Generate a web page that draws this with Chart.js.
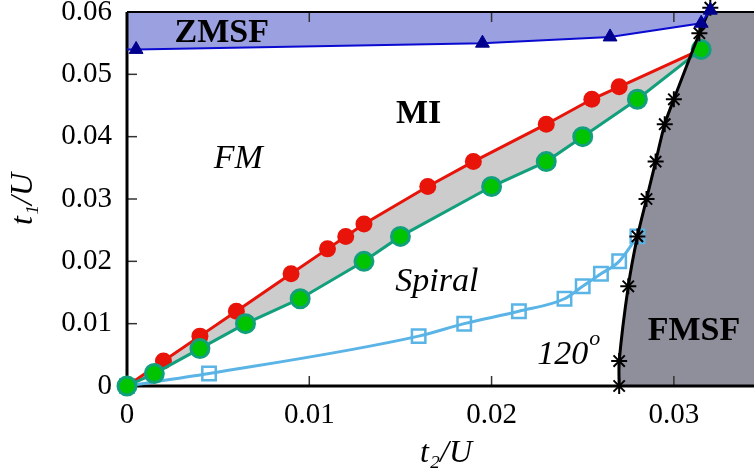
<!DOCTYPE html>
<html>
<head>
<meta charset="utf-8">
<script src="https://cdn.jsdelivr.net/npm/chart.js@4"></script>
<style>
  html, body { margin: 0; padding: 0; background: #fff; overflow: hidden; }
  #wrap { width: 754px; height: 474px; overflow: hidden; position: relative; }
  #chart { display: block; }
</style>
</head>
<body>
<div id="wrap"><canvas id="chart" width="777" height="474"></canvas></div>
<script>
const X_TICKS = [0, 0.01, 0.02, 0.03];
const Y_TICKS = [0, 0.01, 0.02, 0.03, 0.04, 0.05, 0.06];
const X_MAX = 0.035;
const Y_MAX = 0.06;

// ZMSF boundary (triangles) - first entry is where the line meets the t1 axis
const zmsfT2 = [0, 0.0005, 0.0195, 0.0265, 0.0315, 0.032];
const zmsfT1 = [0.054, 0.054, 0.055, 0.056, 0.0582, 0.0603];

// FM / MI boundary (red circles)
const redT2 = [0, 0.002, 0.004, 0.006, 0.009, 0.011, 0.012, 0.013, 0.0165, 0.019, 0.023, 0.0255, 0.027, 0.0315];
const redT1 = [0, 0.004, 0.008, 0.012, 0.018, 0.022, 0.024, 0.026, 0.032, 0.036, 0.042, 0.046, 0.048, 0.054];

// MI / Spiral boundary (green circles)
const greenT2 = [0, 0.0015, 0.004, 0.0065, 0.0095, 0.013, 0.015, 0.02, 0.023, 0.025, 0.028, 0.0315];
const greenT1 = [0, 0.002, 0.006, 0.010, 0.014, 0.020, 0.024, 0.032, 0.036, 0.040, 0.046, 0.054];

// Spiral / 120 boundary (open squares)
const sqT2 = [0, 0.0045, 0.016, 0.0185, 0.0215, 0.024, 0.025, 0.026, 0.027, 0.028];
const sqT1 = [0, 0.002, 0.008, 0.010, 0.012, 0.014, 0.016, 0.018, 0.020, 0.024];

// FMSF boundary (asterisks)
const starT2 = [0.027, 0.027, 0.0275, 0.028, 0.0285, 0.029, 0.0295, 0.030, 0.0314, 0.032];
const starT1 = [0, 0.004, 0.016, 0.024, 0.030, 0.036, 0.042, 0.046, 0.0566, 0.0607];

const regionLabels = [
  { text: 'ZMSF',   t2: 0.0052, t1: 0.0552, style: 'bold' },
  { text: 'MI',     t2: 0.0160, t1: 0.0422, style: 'bold' },
  { text: 'FM',     t2: 0.0061, t1: 0.0350, style: 'italic' },
  { text: 'Spiral', t2: 0.0170, t1: 0.0153, style: 'italic' },
  { text: '120',    t2: 0.0239, t1: 0.0035, style: 'italic', sup: 'o' },
  { text: 'FMSF',   t2: 0.0311, t1: 0.0074, style: 'bold' },
];

const FONT = "'Liberation Serif', 'Times New Roman', serif";
const pts = (xs, ys) => xs.map((x, i) => ({ x, y: ys[i] }));

const frameTicks = {
  id: 'frameTicks',
  beforeDatasetsDraw(chart) {
    const { ctx, chartArea: a, scales: { x, y } } = chart;
    const len = 10;
    const seg = (x1, y1, x2, y2) => { ctx.beginPath(); ctx.moveTo(x1, y1); ctx.lineTo(x2, y2); ctx.stroke(); };
    ctx.save();
    ctx.strokeStyle = '#333';
    ctx.lineWidth = 1.5;
    X_TICKS.forEach(v => {
      const p = x.getPixelForValue(v);
      seg(p, a.bottom, p, a.bottom - len);
      seg(p, a.top, p, a.top + len);
    });
    Y_TICKS.forEach(v => {
      const p = y.getPixelForValue(v);
      seg(a.left, p, a.left + len, p);
      seg(a.right, p, a.right - len, p);
    });
    ctx.strokeStyle = '#000';
    ctx.lineWidth = 2;
    seg(a.left, a.top, a.right, a.top);
    seg(a.right, a.top, a.right, a.bottom);
    ctx.lineWidth = 3;
    seg(a.left - 1.5, a.bottom, a.right, a.bottom);
    seg(a.left, a.top, a.left, a.bottom);
    ctx.restore();
  },
};

const labelsPlugin = {
  id: 'regionLabels',
  afterDatasetsDraw(chart) {
    const { ctx, scales: { x, y } } = chart;
    ctx.save();
    ctx.fillStyle = '#000';
    ctx.textBaseline = 'alphabetic';
    ctx.textAlign = 'left';
    regionLabels.forEach(l => {
      const px = x.getPixelForValue(l.t2);
      const py = y.getPixelForValue(l.t1);
      ctx.font = `${l.style} 34px ${FONT}`;
      const w = ctx.measureText(l.text).width;
      ctx.fillText(l.text, px - w / 2, py);
      if (l.sup) {
        ctx.font = `italic 22px ${FONT}`;
        ctx.fillText(l.sup, px + w / 2 + 1, py - 19);
      }
    });
    ctx.restore();
  },
};

const fixBox = (size) => (scale) => {
  if (scale.isHorizontal()) scale.height = size; else scale.width = size;
  scale.paddingTop = 0; scale.paddingBottom = 0;
  scale.paddingLeft = 0; scale.paddingRight = 0;
};

new Chart(document.getElementById('chart'), {
  type: 'line',
  data: {
    datasets: [
      {
        // ZMSF boundary, filled up to the top of the plot
        data: pts(zmsfT2, zmsfT1),
        borderColor: '#0A0AD0',
        borderWidth: 2,
        backgroundColor: '#9AA0E0',
        fill: 'end',
        pointStyle: 'triangle',
        pointRadius: ctx => ctx.dataIndex === 0 ? 0 : 8,
        pointBackgroundColor: '#00008E',
        pointBorderColor: '#00008E',
        pointBorderWidth: 1,
        tension: 0,
        clip: false,
      },
      {
        // FMSF boundary, grey below / right of it
        data: pts(starT2, starT1),
        borderColor: '#000',
        borderWidth: 3,
        backgroundColor: '#8F8F9B',
        fill: 'start',
        pointStyle: 'star',
        pointRadius: 8,
        pointBorderColor: '#000',
        pointBorderWidth: 2,
        tension: 0.25,
        clip: false,
      },
      {
        data: pts(greenT2, greenT1),
        borderColor: '#12A07C',
        borderWidth: 3,
        fill: false,
        pointStyle: 'circle',
        pointRadius: 9,
        pointBackgroundColor: '#00C400',
        pointBorderColor: '#12A07C',
        pointBorderWidth: 3,
        tension: 0,
        clip: false,
      },
      {
        // MI band between red and green
        data: pts(redT2, redT1),
        borderColor: '#E8140A',
        borderWidth: 3,
        fill: { target: 2, above: '#CCCCCC', below: '#CCCCCC' },
        pointStyle: 'circle',
        pointRadius: 8.5,
        pointBackgroundColor: '#E8140A',
        pointBorderColor: '#E8140A',
        pointBorderWidth: 0,
        tension: 0,
        clip: false,
      },
      {
        data: pts(sqT2, sqT1),
        borderColor: '#5AB4E6',
        borderWidth: 3,
        fill: false,
        pointStyle: 'rect',
        pointRadius: 9.5,
        pointBackgroundColor: 'rgba(0,0,0,0)',
        pointBorderColor: '#5AB4E6',
        pointBorderWidth: 2.5,
        cubicInterpolationMode: 'monotone',
        clip: false,
      },
      {
        // rest of the FMSF region right of the asterisk line
        data: [{ x: starT2[starT2.length - 2], y: Y_MAX }, { x: X_MAX, y: Y_MAX }],
        borderWidth: 0,
        backgroundColor: '#8F8F9B',
        fill: 'start',
        pointRadius: 0,
      },
    ],
  },
  options: {
    responsive: false,
    animation: false,
    events: [],
    layout: { padding: { top: 12, right: 0, bottom: 0, left: 0 } },
    plugins: {
      legend: { display: false },
      tooltip: { enabled: false },
      filler: { drawTime: 'beforeDraw' },
    },
    scales: {
      x: {
        type: 'linear',
        min: 0,
        max: X_MAX,
        afterBuildTicks: s => { s.ticks = X_TICKS.map(v => ({ value: v })); },
        afterFit: fixBox(88),
        grid: { display: false, drawTicks: false },
        border: { display: false },
        ticks: {
          padding: 12,
          color: '#000',
          font: { family: FONT, size: 29 },
          callback: v => String(v),
          maxRotation: 0,
        },
        title: {
          display: true,
          text: 't₂/U',
          color: '#000',
          font: { family: FONT, size: 32, style: 'italic' },
          padding: { top: 0, bottom: 1 },
        },
      },
      y: {
        type: 'linear',
        min: 0,
        max: Y_MAX,
        afterBuildTicks: s => { s.ticks = Y_TICKS.map(v => ({ value: v })); },
        afterFit: fixBox(127),
        grid: { display: false, drawTicks: false },
        border: { display: false },
        ticks: {
          padding: 15,
          color: '#000',
          font: { family: FONT, size: 29 },
          callback: v => String(v),
        },
        title: {
          display: true,
          text: 't₁/U',
          color: '#000',
          font: { family: FONT, size: 32, style: 'italic' },
          padding: { top: 4, bottom: 0 },
        },
      },
    },
  },
  plugins: [frameTicks, labelsPlugin],
});
</script>
</body>
</html>
